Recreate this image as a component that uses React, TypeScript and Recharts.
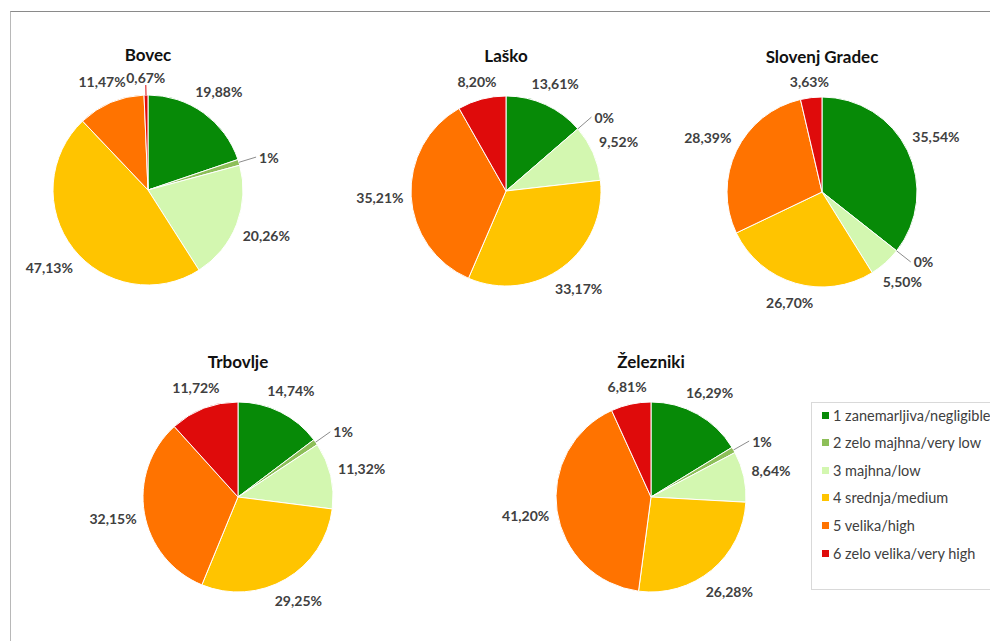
import React from "react";
import { PieChart, Pie, Cell } from "recharts";

// Risk classes, in slice order (clockwise from 12 o'clock)
const CATEGORIES = [
  "1 zanemarljiva/negligible",
  "2 zelo majhna/very low",
  "3 majhna/low",
  "4 srednja/medium",
  "5 velika/high",
  "6 zelo velika/very high",
];

const CITIES = ["Bovec", "Laško", "Slovenj Gradec", "Trbovlje", "Železniki"];

// Share of area per class, %
const BOVEC = [19.88, 1, 20.26, 47.13, 11.47, 0.67];
const LASKO = [13.61, 0, 9.52, 33.17, 35.21, 8.2];
const SLOVENJ_GRADEC = [35.54, 0, 5.5, 26.7, 28.39, 3.63];
const TRBOVLJE = [14.74, 1, 11.32, 29.25, 32.15, 11.72];
const ZELEZNIKI = [16.29, 1, 8.64, 26.28, 41.2, 6.81];

const SERIES = [BOVEC, LASKO, SLOVENJ_GRADEC, TRBOVLJE, ZELEZNIKI];

const COLORS = ["#078a07", "#8dbf58", "#d3f7b0", "#ffc400", "#ff7300", "#df0b0b"];

// pie centres on the page
const LAYOUT = [
  { cx: 148, cy: 190 },
  { cx: 506, cy: 191 },
  { cx: 822, cy: 192 },
  { cx: 238, cy: 497 },
  { cx: 651, cy: 497 },
];
const RADIUS = 95;
const FONT = "Lato, 'Open Sans', sans-serif";
const RAD = Math.PI / 180;

const fmt = (v: number) =>
  Number.isInteger(v) ? `${v}%` : `${v.toFixed(2).replace(".", ",")}%`;

const textProps = {
  fill: "#404040",
  fontFamily: FONT,
  fontWeight: 700,
  fontSize: 14,
};

function renderLabel(props: any) {
  const { cx, cy, midAngle, outerRadius, value, index } = props;
  const text = fmt(value);
  const cos = Math.cos(midAngle * RAD);
  const sin = Math.sin(midAngle * RAD);

  if (value < 2) {
    // tiny slice: short leader line out of the edge, text beyond it
    const vertical = Math.abs(cos) < 0.3;
    const r2 = outerRadius + (vertical ? 10 : 18);
    const x2 = cx + r2 * cos;
    const y2 = cy - r2 * sin;
    const right = cos >= 0;
    return (
      <g key={`lbl-${index}`}>
        <polyline
          points={`${cx + outerRadius * cos},${cy - outerRadius * sin} ${x2},${y2}`}
          stroke={vertical ? COLORS[5] : "#8c8c8c"}
          strokeWidth={1}
          fill="none"
        />
        <text
          x={vertical ? x2 : x2 + (right ? 3 : -3)}
          y={vertical ? y2 - (sin > 0 ? 8 : -8) : y2}
          textAnchor={vertical ? "middle" : right ? "start" : "end"}
          dominantBaseline="central"
          {...textProps}
        >
          {text}
        </text>
      </g>
    );
  }

  const w = text.length * 8.3;
  const h = 15;
  const k = 6 + (Math.abs(cos) * w) / 2 + (Math.abs(sin) * h) / 2;
  const x = cx + (outerRadius + k) * cos;
  const y = cy - (outerRadius + k) * sin;
  return (
    <text
      key={`lbl-${index}`}
      x={x}
      y={y}
      textAnchor="middle"
      dominantBaseline="central"
      {...textProps}
    >
      {text}
    </text>
  );
}

export default function App() {
  return (
    <div
      style={{
        position: "fixed",
        left: 0,
        top: 0,
        width: 990,
        height: 641,
        overflow: "hidden",
        background: "#fff",
        fontFamily: FONT,
      }}
    >
      <div
        style={{
          position: "absolute",
          left: 10,
          top: 11,
          width: 1000,
          height: 640,
          borderTop: "1px solid #8a8a8a",
          borderLeft: "1px solid #b8b8b8",
        }}
      />

      {CITIES.map((city, i) => (
        <div
          key={city}
          style={{
            position: "absolute",
            left: LAYOUT[i].cx - 100,
            width: 200,
            top: LAYOUT[i].cy - 146,
            textAlign: "center",
            fontWeight: 700,
            fontSize: 17,
            color: "#111",
          }}
        >
          {city}
        </div>
      ))}

      <div style={{ position: "absolute", left: 0, top: 0 }}>
        <PieChart width={990} height={641} margin={{ top: 0, right: 0, bottom: 0, left: 0 }}>
          {SERIES.map((values, i) => (
            <Pie
              key={CITIES[i]}
              data={CATEGORIES.map((name, j) => ({ name, value: values[j] }))}
              dataKey="value"
              cx={LAYOUT[i].cx}
              cy={LAYOUT[i].cy}
              outerRadius={RADIUS}
              startAngle={90}
              endAngle={-270}
              stroke="#ffffff"
              strokeWidth={1}
              label={renderLabel}
              labelLine={false}
              isAnimationActive={false}
            >
              {values.map((_, j) => (
                <Cell key={j} fill={COLORS[j]} />
              ))}
            </Pie>
          ))}
        </PieChart>
      </div>

      <div
        style={{
          position: "absolute",
          left: 811,
          top: 402,
          width: 220,
          height: 186,
          border: "1px solid #d9d9d9",
        }}
      >
        {CATEGORIES.map((c, j) => (
          <div
            key={c}
            style={{
              position: "absolute",
              left: 10,
              top: 3 + j * 27.6,
              height: 18,
              display: "flex",
              alignItems: "center",
              whiteSpace: "nowrap",
              fontSize: 14.5,
              color: "#404040",
            }}
          >
            <span
              style={{
                display: "inline-block",
                width: 7,
                height: 7,
                background: COLORS[j],
                marginRight: 4,
              }}
            />
            {c}
          </div>
        ))}
      </div>
    </div>
  );
}
